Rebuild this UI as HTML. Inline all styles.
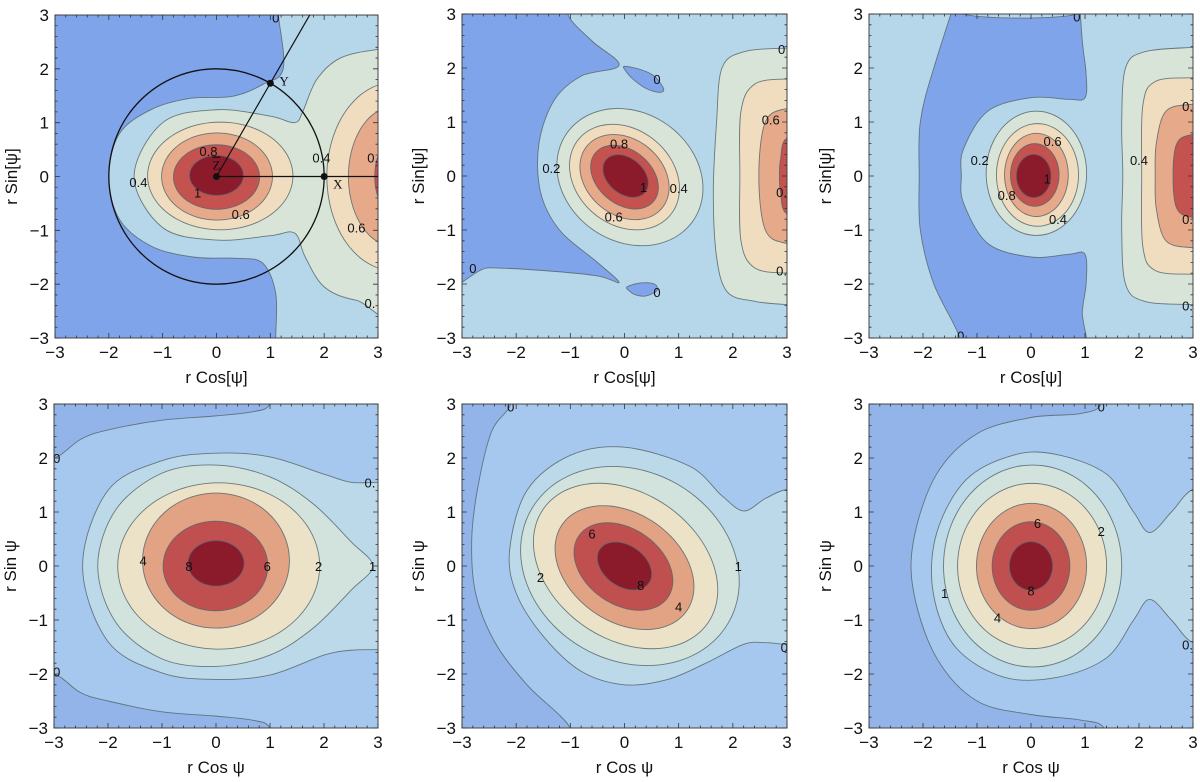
<!DOCTYPE html>
<html><head><meta charset="utf-8">
<style>
html,body{margin:0;padding:0;background:#fff;}
svg{display:block;font-family:"Liberation Sans",sans-serif;}
</style></head>
<body>
<svg id="fig" width="1200" height="782" viewBox="0 0 1200 782" xmlns="http://www.w3.org/2000/svg"></svg>
<script>
// ---------- data ----------
const tickValues = [-3,-2,-1,0,1,2,3];
const topColors = ['#80a4ea','#b6d6ea','#d8e4d8','#f0dcbf','#e6aa8b','#c4524f','#8b1a2b'];
const botColors = ['#92b4e8','#a7c8ee','#bcd9ea','#d2e3de','#ece2c8','#e2a384','#c0504f','#8b1a2b'];

const p1Regions = [
 [0,'rect',[]],
 [1,'poly',[[1.1,3.6],[1.15,3],[1.24,2.0],[0.86,1.71],[0.3,1.49],[-0.5,1.45],[-1.2,1.25],[-1.8,0.8],[-2.0,0],[-1.8,-0.8],[-1.2,-1.3],[-0.4,-1.5],[0.4,-1.52],[0.86,-1.61],[1.1,-2.17],[1.1,-3],[1.1,-3.6],[3.6,-3.6],[3.6,3.6]]],
 [2,'poly',[[3.6,2.38],[3,2.36],[2.3,2.2],[1.86,1.8],[1.6,1.2],[1.45,1.0],[1.0,1.12],[0,1.24],[-1,1.0],[-1.53,0],[-1,-0.95],[0,-1.18],[1.0,-1.1],[1.45,-1.05],[1.65,-1.5],[2.0,-2.05],[2.6,-2.3],[3.6,-2.38]]],
 [3,'ell',[0.07,0.01,1.35,1.0,0]],
 [3,'ell',[3.3,0,1.25,1.75,0]],
 [4,'ell',[0.01,0,1.03,0.81,0]],
 [4,'ell',[3.3,0,0.85,1.3,0]],
 [5,'ell',[0,-0.01,0.8,0.6,0]],
 [5,'ell',[3.2,0,0.26,0.6,0]],
 [6,'ell',[0,0.02,0.5,0.37,0]]
];
const p1Labels = [['0.8',-0.15,0.47],['0.4',-1.45,-0.1],['1',-0.35,-0.3],['0.6',0.45,-0.7],['0.4',1.95,0.35],['0.',2.9,0.35],['0.6',2.6,-0.95],['0.',2.85,-2.35],['0',1.1,2.95]];

const p2Regions = [
 [1,'rect',[]],
 [0,'poly',[[-3.6,3.6],[-1.05,3.6],[-1.05,3],[-0.6,2.5],[-0.1,2.05],[-0.8,1.85],[-1.3,1.4],[-1.58,0.6],[-1.55,-0.3],[-1.2,-1.0],[-0.5,-1.6],[-0.1,-1.97],[-0.5,-1.85],[-1.5,-1.75],[-2.5,-1.7],[-3.6,-1.72]]],
 [0,'poly',[[0.0,2.03],[0.3,1.97],[0.55,1.85],[0.72,1.62],[0.65,1.55],[0.4,1.62],[0.15,1.8],[0.02,1.95]]],
 [0,'poly',[[0.05,-2.05],[0.3,-1.98],[0.55,-2.0],[0.6,-2.12],[0.4,-2.22],[0.2,-2.2],[0.08,-2.12]]],
 [2,'ell',[0.1,-0.02,1.42,1.19,-35]],
 [2,'poly',[[3.6,2.38],[3,2.37],[2.2,2.3],[1.8,2.0],[1.7,1.0],[1.64,-0.3],[1.7,-1.5],[1.9,-2.15],[2.4,-2.32],[3,-2.38],[3.6,-2.38]]],
 [3,'ell',[0,-0.02,1.1,0.88,-40]],
 [3,'poly',[[3.6,1.8],[3,1.8],[2.4,1.7],[2.15,1.2],[2.13,0],[2.15,-1.2],[2.4,-1.7],[3,-1.8],[3.6,-1.8]]],
 [4,'ell',[0,-0.02,0.9,0.7,-40]],
 [4,'poly',[[3.6,1.25],[3,1.25],[2.6,1.0],[2.48,0],[2.6,-1.0],[3,-1.25],[3.6,-1.25]]],
 [5,'ell',[0,-0.02,0.7,0.5,-40]],
 [5,'poly',[[3.6,0.7],[3,0.7],[2.88,0.3],[2.86,0],[2.88,-0.3],[3,-0.7],[3.6,-0.7]]],
 [6,'ell',[0.02,0,0.47,0.33,-40]]
];
const p2Labels = [['0',0.6,1.8],['0.2',-1.35,0.15],['0.8',-0.1,0.6],['1',0.35,-0.2],['0.4',1.0,-0.22],['0.6',-0.2,-0.75],['0',2.9,2.35],['0.6',2.7,1.05],['0.',2.9,-0.3],['0',-2.8,-1.7],['0',0.6,-2.15],['0.',2.9,-1.75]];

const p3Regions = [
 [1,'rect',[]],
 [0,'poly',[[-1.26,3.6],[-1.26,3],[0.87,3],[0.87,3.6],[0.95,2.5],[1.02,1.9],[1.0,1.45],[0.7,1.42],[0,1.45],[-0.8,1.2],[-1.25,0.5],[-1.29,0],[-1.25,-0.5],[-0.8,-1.25],[0,-1.5],[0.7,-1.45],[1.0,-1.45],[1.02,-2.0],[0.95,-2.5],[0.87,-3.6],[-1.32,-3.6],[-1.32,-3],[-1.8,-2.0],[-2.05,-1.0],[-2.07,0],[-2.05,1.0],[-1.8,2.0]]],
 [2,'ell',[0.1,0.05,0.93,1.15,0]],
 [2,'poly',[[3.6,2.38],[3,2.38],[2.1,2.3],[1.75,2.0],[1.68,1.0],[1.7,0],[1.68,-1.0],[1.75,-2.0],[2.1,-2.32],[3,-2.38],[3.6,-2.38]]],
 [3,'ell',[0.12,0.02,0.76,0.95,0]],
 [3,'poly',[[3.6,1.82],[3,1.82],[2.3,1.75],[2.07,1.3],[2.05,0],[2.07,-1.3],[2.3,-1.75],[3,-1.82],[3.6,-1.82]]],
 [4,'ell',[0.1,0.02,0.59,0.77,0]],
 [4,'poly',[[3.6,1.33],[3,1.33],[2.5,1.2],[2.32,0.6],[2.3,0],[2.32,-0.6],[2.5,-1.2],[3,-1.33],[3.6,-1.33]]],
 [5,'ell',[0.07,0.02,0.45,0.58,0]],
 [5,'poly',[[3.6,0.77],[3,0.77],[2.7,0.6],[2.63,0],[2.7,-0.6],[3,-0.77],[3.6,-0.77]]],
 [6,'ell',[0.05,0.0,0.32,0.4,0]]
];
const p3Labels = [['0.2',-0.95,0.3],['0.6',0.4,0.65],['1',0.3,-0.05],['0.8',-0.45,-0.35],['0.4',0.5,-0.8],['0.4',2.0,0.3],['0.',2.9,1.3],['0.',2.9,-0.8],['0.',2.9,-2.4],['0',0.85,2.95],['0',-1.3,-2.95]];

const p4Regions = [
 [0,'rect',[]],
 [1,'poly',[[-3.6,2.0],[-3,2.0],[-2.5,2.35],[-2,2.52],[-1,2.7],[0,2.78],[0.7,2.86],[1,3],[1.2,3.6],[3.6,3.6],[3.6,-3.6],[1.2,-3.6],[1,-3],[0.7,-2.86],[0,-2.78],[-1,-2.7],[-2,-2.5],[-2.5,-2.35],[-3,-2.0],[-3.6,-2.0]]],
 [2,'poly',[[3.6,1.55],[3,1.55],[2.5,1.55],[2,1.7],[1,2.02],[0,2.09],[-1,1.95],[-2,1.4],[-2.47,0],[-2,-1.4],[-1,-1.98],[0,-2.1],[1,-2.02],[2,-1.65],[2.5,-1.56],[3,-1.55],[3.6,-1.55]]],
 [3,'poly',[[2.9,0],[2.5,0.45],[1.8,1.15],[1.0,1.65],[0,1.87],[-1,1.72],[-1.85,1.05],[-2.19,0],[-1.85,-1.05],[-1,-1.72],[0,-1.86],[1.0,-1.65],[1.8,-1.15],[2.5,-0.45]]],
 [4,'ell',[0.05,0,1.87,1.54,0]],
 [5,'ell',[0,0.1,1.36,1.25,0]],
 [6,'ell',[-0.01,0,0.97,0.83,0]],
 [7,'ell',[0,0.05,0.52,0.42,0]]
];
const p4Labels = [['4',-1.35,0.1],['8',-0.5,0],['6',0.95,0],['2',1.9,0],['1',2.9,0],['0.',2.85,1.55],['0',-2.95,2.0],['0',-2.95,-1.95]];

const p5Regions = [
 [0,'rect',[]],
 [1,'poly',[[-2.1,3.6],[-2.1,3],[-2.45,2.5],[-2.7,1.5],[-2.82,0.5],[-2.75,-0.5],[-2.4,-1.4],[-1.8,-2.2],[-1.0,-3],[-1.0,-3.6],[3.6,-3.6],[3.6,3.6]]],
 [2,'poly',[[3.6,1.45],[3,1.42],[2.6,1.25],[2.2,1.02],[1.8,1.3],[1.2,1.85],[0,2.2],[-1,2.05],[-1.8,1.4],[-2.12,0.3],[-2.0,-0.5],[-1.5,-1.3],[-0.8,-1.95],[0,-2.2],[0.8,-2.1],[1.5,-1.8],[2.2,-1.45],[2.6,-1.42],[3,-1.45],[3.6,-1.45]]],
 [3,'ell',[0.1,0,2.1,1.75,-30]],
 [4,'ell',[0.02,0,1.85,1.35,-35]],
 [5,'ell',[0,-0.03,1.4,1.0,-35]],
 [6,'ell',[-0.02,-0.01,1.0,0.7,-35]],
 [7,'ell',[0,0,0.55,0.38,-35]]
];
const p5Labels = [['6',-0.6,0.6],['2',-1.55,-0.2],['8',0.3,-0.35],['4',1.0,-0.75],['1',2.1,0],['0',2.95,-1.5],['0',-2.1,2.95]];

const p6Regions = [
 [0,'rect',[]],
 [1,'poly',[[1.3,3.6],[1.3,3],[0.9,2.82],[0,2.75],[-1,2.45],[-1.75,1.7],[-2.17,0.5],[-2.17,-0.5],[-1.75,-1.7],[-1,-2.5],[0,-2.75],[0.9,-2.85],[1.35,-3],[1.35,-3.6],[3.6,-3.6],[3.6,3.6]]],
 [2,'poly',[[3.6,1.45],[3,1.42],[2.6,1.0],[2.2,0.62],[1.9,1.0],[1.4,1.7],[0.5,2.06],[-0.3,2.06],[-1.2,1.6],[-1.75,0.6],[-1.81,-0.5],[-1.4,-1.5],[-0.5,-2.06],[0.5,-2.06],[1.4,-1.7],[1.9,-1.0],[2.2,-0.62],[2.6,-1.0],[3,-1.42],[3.6,-1.45]]],
 [3,'ell',[0.03,0,1.65,1.87,0]],
 [4,'ell',[0.02,0,1.38,1.53,0]],
 [5,'ell',[0.01,0,1.02,1.16,0]],
 [6,'ell',[0,0,0.72,0.82,0]],
 [7,'ell',[0,0,0.4,0.45,0]]
];
const p6Labels = [['6',0.12,0.8],['2',1.3,0.65],['1',-1.6,-0.5],['8',0,-0.45],['4',-0.62,-0.95],['0.',2.9,-1.45],['0',1.3,2.95]];

// ---------- drawing ----------
const NS='http://www.w3.org/2000/svg';
const svg=document.getElementById('fig');
function mk(tag,attrs,parent){const e=document.createElementNS(NS,tag);for(const k in attrs)e.setAttribute(k,attrs[k]);(parent||svg).appendChild(e);return e;}

function catmull(pts){
  const n=pts.length;let d='M'+pts[0][0].toFixed(2)+','+pts[0][1].toFixed(2);
  for(let i=0;i<n;i++){
    const p0=pts[(i-1+n)%n],p1=pts[i],p2=pts[(i+1)%n],p3=pts[(i+2)%n];
    const c1=[p1[0]+(p2[0]-p0[0])/6,p1[1]+(p2[1]-p0[1])/6];
    const c2=[p2[0]-(p3[0]-p1[0])/6,p2[1]-(p3[1]-p1[1])/6];
    d+='C'+c1[0].toFixed(2)+','+c1[1].toFixed(2)+' '+c2[0].toFixed(2)+','+c2[1].toFixed(2)+' '+p2[0].toFixed(2)+','+p2[1].toFixed(2);
  }
  return d+'Z';
}

function panel(id,box,regions,colors,labels,xt,yt){
  const [x0,x1,y0,y1]=box;
  const sx=v=>x0+(v+3)/6*(x1-x0);
  const sy=v=>y0+(3-v)/6*(y1-y0);
  const g=mk('g',{});
  
  
  const cp=mk('clipPath',{id:'clip-'+id},g);
  mk('rect',{x:x0,y:y0,width:x1-x0,height:y1-y0},cp);
  const area=mk('g',{'clip-path':'url(#clip-'+id+')'},g);
  regions.forEach((r,i)=>{
    const [ci,type,p]=r;let el;
    if(type==='rect'){el=mk('rect',{x:x0,y:y0,width:x1-x0,height:y1-y0,fill:colors[ci]},area);}
    else{
      let pts;
      if(type==='ell'){
        const [cx,cy,rx,ry,rot]=p;const a=rot*Math.PI/180;pts=[];
        for(let k=0;k<48;k++){const t=k/48*2*Math.PI;const ex=rx*Math.cos(t),ey=ry*Math.sin(t);
          pts.push([sx(cx+ex*Math.cos(a)-ey*Math.sin(a)),sy(cy+ex*Math.sin(a)+ey*Math.cos(a))]);}
      } else pts=p.map(q=>[sx(q[0]),sy(q[1])]);
      el=mk('path',{d:catmull(pts),fill:colors[ci],stroke:'#56666c','stroke-width':0.9,'stroke-opacity':0.85},area);
    }
    
    
  });
  labels.forEach(l=>{
    const t=mk('text',{x:sx(l[1]),y:sy(l[2])+5,'font-size':13,'text-anchor':'middle',fill:'#111'},area);
    t.textContent=l[0];
    
    
  });
  const fr=mk('rect',{x:x0,y:y0,width:x1-x0,height:y1-y0,fill:'none',stroke:'#444','stroke-width':1},g);
  
  
  let td='';
  for(let v=-3;v<=3.001;v+=0.2){
    const maj=Math.abs(v-Math.round(v))<0.01;const L=maj?5:2.5;
    const X=sx(v),Y=sy(v);
    td+=`M${X},${y1}v${-L}M${X},${y0}v${L}M${x0},${Y}h${L}M${x1},${Y}h${-L}`;
  }
  const tk=mk('path',{d:td,stroke:'#333','stroke-width':0.8,fill:'none'},g);
  
  
  tickValues.forEach(v=>{
    const s=(v<0?'\u2212':'')+Math.abs(v);
    const a=mk('text',{x:sx(v),y:y1+20,'font-size':17,'text-anchor':'middle',fill:'#111'},g);
    a.textContent=s;
    
    
    const b=mk('text',{x:x0-6,y:sy(v)+6,'font-size':17,'text-anchor':'end',fill:'#111'},g);
    b.textContent=s;
    
    
  });
  const xtl=mk('text',{x:(x0+x1)/2,y:y1+45,'font-size':17,'text-anchor':'middle',fill:'#111'},g);
  xtl.textContent=xt;
  
  
  const ytl=mk('text',{x:0,y:0,'font-size':17,'text-anchor':'middle',fill:'#111',transform:`translate(${x0-38},${(y0+y1)/2}) rotate(-90)`},g);
  ytl.textContent=yt;
  
  
  return {g,sx,sy};
}

const P1=panel('panel-top-left',[55,378,15,338],p1Regions,topColors,p1Labels,'r Cos[\u03C8]','r Sin[\u03C8]');
panel('panel-top-middle',[462,787,14,338],p2Regions,topColors,p2Labels,'r Cos[\u03C8]','r Sin[\u03C8]');
panel('panel-top-right',[869,1193,14,338],p3Regions,topColors,p3Labels,'r Cos[\u03C8]','r Sin[\u03C8]');
panel('panel-bottom-left',[54,378,404,728],p4Regions,botColors,p4Labels,'r Cos \u03C8','r Sin \u03C8');
panel('panel-bottom-middle',[462,787,404,728],p5Regions,botColors,p5Labels,'r Cos \u03C8','r Sin \u03C8');
panel('panel-bottom-right',[869,1193,404,728],p6Regions,botColors,p6Labels,'r Cos \u03C8','r Sin \u03C8');

const circleR=[2];
const overlayPoints=[['Y',1,1.732],['X',2,0],['Z',0,0]];
const sx=P1.sx,sy=P1.sy;
const ov=mk('g',{'clip-path':'url(#clip-panel-top-left)'},P1.g);


const circ=mk('ellipse',{cx:sx(0),cy:sy(0),rx:sx(circleR[0])-sx(0),ry:sy(0)-sy(circleR[0]),fill:'none',stroke:'#111','stroke-width':1.3},ov);


const l1=mk('line',{x1:sx(0),y1:sy(0),x2:sx(1.732),y2:sy(3),stroke:'#111','stroke-width':1.2},ov);


const l2=mk('line',{x1:sx(0),y1:sy(0),x2:sx(3),y2:sy(0),stroke:'#111','stroke-width':1.2},ov);


overlayPoints.forEach(p=>{
  const d=mk('circle',{cx:sx(p[1]),cy:sy(p[2]),r:3.5,fill:'#111'},ov);
  
  
  const dx=p[0]==='Z'?0:9,dy=p[0]==='Y'?2:(p[0]==='X'?12:-7);
  const t=mk('text',{x:sx(p[1])+dx,y:sy(p[2])+dy,'font-size':13,'font-family':'Liberation Serif,serif',fill:'#111','text-anchor':p[0]==='Z'?'middle':'start',
    'text-decoration':p[0]==='Z'?'overline':'none'},ov);
  t.textContent=p[0];
  
  
});
</script>
</body></html>
